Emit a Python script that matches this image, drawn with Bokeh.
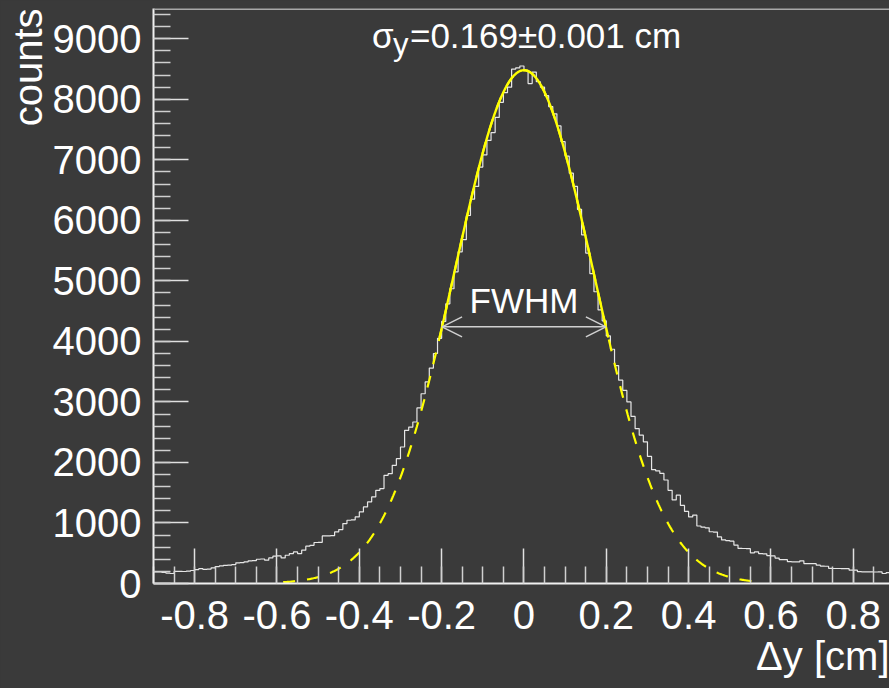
import numpy as np
from bokeh.plotting import figure
from bokeh.models import FixedTicker, Label, Arrow, OpenHead, Span, Title
from bokeh.embed import file_html
from bokeh.resources import INLINE

# ---------------- data ----------------
bin_low = -0.90
bin_width = 0.01
counts = [
    # -0.90 .. -0.25
    192, 190, 185, 172, 165, 200, 200, 198, 205, 215,
    230, 245, 232, 238, 259, 280, 290, 300, 305, 312,
    341, 345, 358, 374, 378, 401, 405, 385, 423, 451,
    455, 423, 467, 495, 522, 495, 550, 616, 630, 677,
    680, 786, 786, 790, 852, 891, 990, 1045, 1050, 1100,
    1183, 1265, 1348, 1430, 1540, 1568, 1788, 1815, 1953, 2063,
    2255, 2530, 2585, 2668, 2900, 3135,
    # -0.24 .. 0.26
    3330, 3560, 3800, 4050, 4330, 4620, 4870, 5150, 5480, 5680,
    6080, 6350, 6560, 6880, 7080, 7320, 7450, 7700, 7950, 8110,
    8200, 8500, 8520, 8550, 8480, 8260, 8450, 8290, 8200, 8060,
    7880, 7760, 7560, 7300, 7060, 6780, 6560, 6180, 5760, 5460,
    5120, 4820, 4520, 4340, 4090, 3870, 3600, 3360, 3190, 3000,
    2760,
    # 0.27 .. 0.44
    2560, 2450, 2340, 2100, 1880, 1860, 1820, 1710, 1540, 1380,
    1460, 1290, 1190, 1100, 1130, 950, 930, 920,
    # 0.45 .. 0.89
    855, 850, 770, 720, 710, 700, 635, 580, 578, 575,
    506, 523, 495, 490, 460, 455, 420, 396, 394, 360,
    358, 356, 374, 330, 330, 328, 303, 288, 285, 250,
    248, 248, 246, 245, 220, 220, 195, 193, 193, 193,
    190, 192, 165, 180, 175,
]

fit_amp = 8480.0
fit_mean = 0.0
fit_sigma = 0.169
fit_lo, fit_hi = -0.205, 0.205          # fitted range (solid)
draw_lo, draw_hi = -0.585, 0.556        # full function (dashed)

x_min, x_max = -0.90, 0.888
y_min, y_max = 0, 9500

x_tick_values = [-0.8, -0.6, -0.4, -0.2, 0.0, 0.2, 0.4, 0.6, 0.8]
x_tick_labels = ["-0.8", "-0.6", "-0.4", "-0.2", "0", "0.2", "0.4", "0.6", "0.8"]
y_tick_values = [0, 1000, 2000, 3000, 4000, 5000, 6000, 7000, 8000, 9000]
y_tick_labels = ["0", "1000", "2000", "3000", "4000", "5000", "6000", "7000", "8000", "9000"]

x_title = "\u0394y [cm]"
y_title = "counts"
sigma_text = "=0.169\u00b10.001 cm"

BG = "#3a3a3a"
FG = "#ffffff"
FONT = "Liberation Sans"

# ---------------- figure ----------------
p = figure(width=889, height=688, x_range=(x_min, x_max), y_range=(y_min, y_max),
           output_backend="svg", toolbar_location=None,
           min_border_left=153, min_border_right=0, min_border_top=8, min_border_bottom=105,
           background_fill_color=BG, border_fill_color=BG)
p.outline_line_color = None
p.grid.visible = False

n = len(counts)
edges = bin_low + bin_width * np.arange(n + 1)
step_y = list(counts) + [counts[-1]]
p.step(edges, step_y, mode="after", line_color="#e6e6e6", line_width=1.2)

# fit curve
xd = np.linspace(draw_lo, draw_hi, 500)
yd = fit_amp * np.exp(-0.5 * ((xd - fit_mean) / fit_sigma) ** 2)
p.line(xd, yd, line_color="#ffff00", line_width=2.2, line_dash="12 12")
xs = np.linspace(fit_lo, fit_hi, 300)
ys = fit_amp * np.exp(-0.5 * ((xs - fit_mean) / fit_sigma) ** 2)
p.line(xs, ys, line_color="#ffff00", line_width=2.4)

# axes
x_minor = list(np.round(np.arange(-0.90, 0.901, 0.05), 3))
y_minor = list(range(0, 9600, 200))
xa, ya = p.xaxis[0], p.yaxis[0]
xa.ticker = FixedTicker(ticks=x_tick_values, minor_ticks=x_minor)
ya.ticker = FixedTicker(ticks=y_tick_values, minor_ticks=y_minor)
xa.major_label_overrides = dict(zip(x_tick_values, x_tick_labels))
ya.major_label_overrides = dict(zip(y_tick_values, y_tick_labels))
for ax in (xa, ya):
    ax.axis_line_color = "#f0f0f0"
    ax.axis_line_width = 2
    ax.major_tick_line_color = "#e0e0e0"
    ax.minor_tick_line_color = "#d0d0d0"
    ax.major_tick_line_width = 1.5
    ax.minor_tick_line_width = 1.5
    ax.major_tick_in = 35
    ax.major_tick_out = 0
    ax.minor_tick_in = 17
    ax.minor_tick_out = 0
    ax.major_label_text_color = FG
    ax.major_label_text_font = FONT
    ax.major_label_text_font_size = "40px"
xa.major_label_standoff = 17
ya.major_label_standoff = 12

# axis titles, right-aligned at the axis ends (ROOT style)
p.add_layout(Title(text=y_title, align="right", text_color=FG, text_font=FONT,
                   text_font_size="40px", text_font_style="normal", standoff=0), "left")
p.add_layout(Title(text=x_title, align="right", text_color=FG, text_font=FONT,
                   text_font_size="40px", text_font_style="normal", standoff=0), "below")

p.add_layout(Span(location=y_max, dimension="width", line_color="#a8a8a8", line_width=3))

# sigma annotation
p.add_layout(Label(x=fit_mean, y=y_max, x_offset=-152, y_offset=-27, text="\u03c3",
                   text_align="left", text_baseline="alphabetic",
                   text_color=FG, text_font=FONT, text_font_size="35px"))
p.add_layout(Label(x=fit_mean, y=y_max, x_offset=-131, y_offset=-36, text="y",
                   text_align="left", text_baseline="alphabetic",
                   text_color=FG, text_font=FONT, text_font_size="31px"))
p.add_layout(Label(x=fit_mean, y=y_max, x_offset=-114, y_offset=-27, text=sigma_text,
                   text_align="left", text_baseline="alphabetic",
                   text_color=FG, text_font=FONT, text_font_size="35px"))

# FWHM arrow
half_w = np.sqrt(2 * np.log(2)) * fit_sigma
half_h = fit_amp / 2
arrow_col = "#d0d0d0"
p.add_layout(Arrow(start=OpenHead(size=20, line_color=arrow_col, line_width=1.5),
                   end=OpenHead(size=20, line_color=arrow_col, line_width=1.5),
                   x_start=fit_mean - half_w, y_start=half_h,
                   x_end=fit_mean + half_w, y_end=half_h,
                   line_color=arrow_col, line_width=1.5))
p.add_layout(Label(x=fit_mean, y=half_h, y_offset=26, text="FWHM",
                   text_align="center", text_baseline="alphabetic",
                   text_color=FG, text_font=FONT, text_font_size="35px"))

html = file_html(p, INLINE)
html = html.replace("<head>", "<head><style>body{background:%s;}</style>" % BG, 1)
open("out.html", "w").write(html)
